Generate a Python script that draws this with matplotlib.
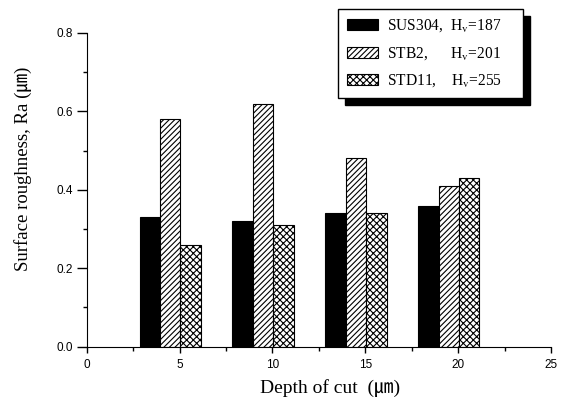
import matplotlib
matplotlib.use("Agg")
import matplotlib.pyplot as plt
import numpy as np
from matplotlib.ticker import MultipleLocator, FuncFormatter

depth = [5, 10, 15, 20]
series_names = ["SUS304,  H$_\\mathrm{v}$=187", "STB2,      H$_\\mathrm{v}$=201", "STD11,    H$_\\mathrm{v}$=255"]
sus304 = [0.33, 0.32, 0.34, 0.36]
stb2 = [0.58, 0.62, 0.48, 0.41]
std11 = [0.26, 0.31, 0.34, 0.43]

plt.rcParams['mathtext.fontset'] = 'stix'
plt.rcParams['hatch.linewidth'] = 0.8

fig = plt.figure(figsize=(5.61, 4.0), dpi=100)
ax = fig.add_axes([86.7/561, 1-346.7/400, (551-86.7)/561, (346.7-33)/400])

x = np.array(depth, dtype=float)
w = 1.1
offs = [-1.6, -0.5, 0.6]
ax.bar(x+offs[0], sus304, w, color='black', edgecolor='black', linewidth=0.8, label=series_names[0])
ax.bar(x+offs[1], stb2, w, color='white', edgecolor='black', hatch='//////', linewidth=0.8, label=series_names[1])
ax.bar(x+offs[2], std11, w, color='white', edgecolor='black', hatch='xxxxx', linewidth=0.8, label=series_names[2])

ax.set_xlim(0, 25)
ax.set_ylim(0, 0.8)
ax.spines['top'].set_visible(False)
ax.spines['right'].set_visible(False)
ax.xaxis.set_major_locator(MultipleLocator(5))
ax.xaxis.set_minor_locator(MultipleLocator(2.5))
ax.yaxis.set_major_locator(MultipleLocator(0.2))
ax.yaxis.set_minor_locator(MultipleLocator(0.1))
ax.yaxis.set_major_formatter(FuncFormatter(lambda v, p: f"{v:.1f}"))
ax.tick_params(axis='y', which='major', length=7, width=1, direction='out', labelsize=8.5, pad=3)
ax.tick_params(axis='x', which='major', length=4, width=1, direction='out', labelsize=8.5, pad=5)
ax.tick_params(which='minor', length=3, width=1, direction='out')
for lab in ax.get_xticklabels() + ax.get_yticklabels():
    lab.set_fontfamily('Liberation Sans')

fam = ['Liberation Serif', 'Noto Sans CJK JP']
ax.set_xlabel("Depth of cut  (㎛)", fontsize=14, family=fam)
ax.set_ylabel("Surface roughness, Ra (㎛)", fontsize=13.5, family=fam)
ax.xaxis.set_label_coords((330-86.7)/(551-86.7), -(388-346.7)/(346.7-33), transform=ax.transAxes)
ax.yaxis.set_label_coords(-(86.7-23)/(551-86.7), (346.7-169)/(346.7-33), transform=ax.transAxes)
ax.xaxis.label.set_va('center')
ax.yaxis.label.set_va('center')

leg = fig.legend(loc='upper left', bbox_to_anchor=(338/561, 1-97/400, 185/561, 88/400),
                 mode='expand', borderaxespad=0,
                 prop={'family': 'Liberation Serif', 'size': 11.2},
                 fancybox=False, edgecolor='black', framealpha=1,
                 shadow={'color': 'black', 'alpha': 1, 'ox': 5, 'oy': -5},
                 handlelength=2.0, handleheight=0.7, labelspacing=0.7,
                 borderpad=0.55, handletextpad=0.6)
leg.get_frame().set_linewidth(1.0)

fig.savefig("out.png", dpi=100)
